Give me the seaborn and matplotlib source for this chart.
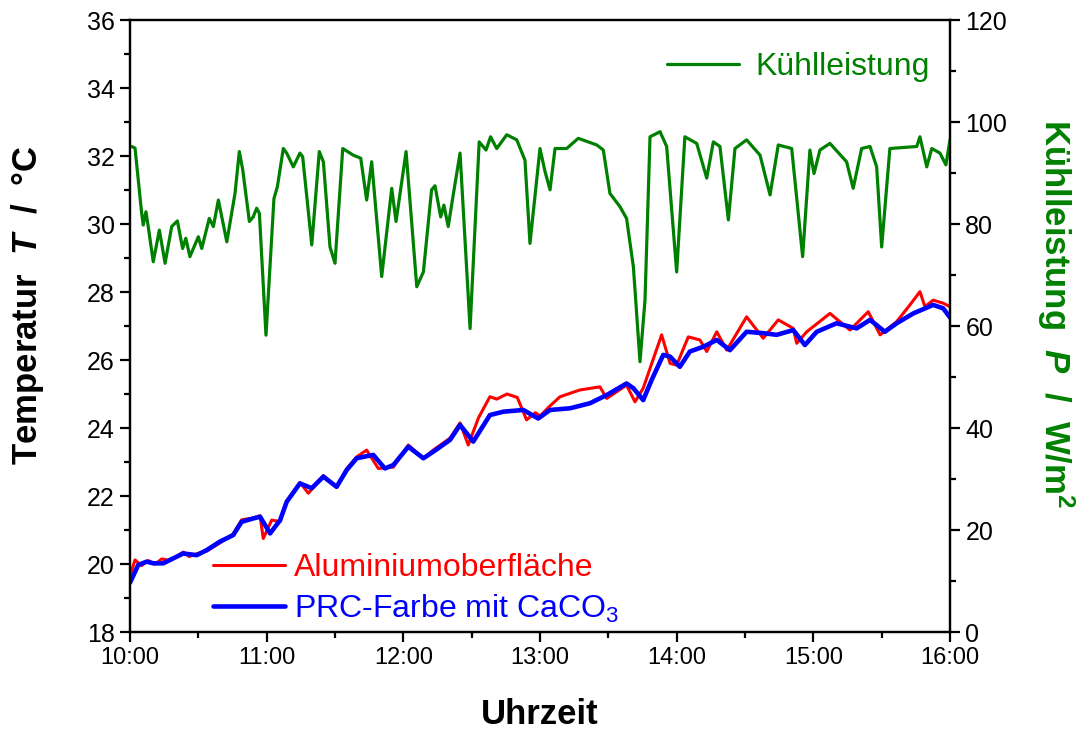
import matplotlib
matplotlib.use("Agg")
import matplotlib.pyplot as plt
from matplotlib.ticker import MultipleLocator, FixedLocator
import pandas as pd
import seaborn as sns

# minutes after 10:00
gruen_min = [0.7, 2.2, 5.1, 5.8, 7.0, 8.0, 10.2, 12.9, 15.4, 18.3, 20.8, 23.1, 24.5, 26.3, 30.0,
             31.5, 34.8, 36.6, 38.8, 42.5, 46.1, 48.0, 49.5, 52.4, 54.1, 55.6, 56.8, 59.7, 63.2,
             64.7, 67.3, 68.8, 71.7, 74.6, 75.8, 79.8, 83.1, 84.9, 87.8, 90.0, 93.4, 98.0, 101.3,
             103.9, 106.1, 110.5, 114.9, 116.8, 121.2, 125.9, 128.8, 132.4, 133.9, 136.4, 137.8,
             139.7, 141.9, 144.9, 149.3, 153.3, 156.3, 158.3, 161.0, 165.4, 169.8, 173.4, 175.6,
             180.0, 182.2, 184.4, 186.6, 191.7, 196.8, 204.9, 207.8, 210.7, 215.1, 218.0, 221.0,
             223.9, 226.1, 228.3, 232.7, 235.6, 240.0, 243.6, 248.8, 253.2, 256.1, 259.0, 262.7,
             265.6, 270.7, 276.6, 281.0, 284.6, 290.5, 295.3, 298.5, 300.3, 302.9, 307.3, 314.6,
             317.5, 321.2, 324.9, 327.8, 330.0, 333.6, 345.4, 346.8, 349.8, 352.0, 355.6, 358.2, 360.0]
gruen_P = [95.2, 94.9, 82.2, 79.8, 82.4, 79.5, 72.6, 78.8, 72.3, 79.5, 80.6, 75.2, 77.2, 73.6, 77.5,
           75.2, 81.1, 79.5, 84.7, 76.5, 86.0, 94.2, 90.6, 80.5, 81.4, 83.1, 82.1, 58.2, 85.0,
           87.3, 94.8, 93.9, 91.2, 93.9, 93.2, 75.9, 94.2, 92.2, 75.5, 72.3, 94.8, 93.5, 92.9,
           84.7, 92.2, 69.7, 87.0, 80.5, 94.2, 67.7, 70.6, 86.7, 87.5, 81.4, 83.7,
           79.5, 85.7, 93.9, 59.5, 96.1, 94.5, 97.1, 94.8, 97.5, 96.5, 92.5, 76.2,
           94.8, 90.3, 86.7, 94.8, 94.8, 96.8, 95.5, 94.5, 86.0, 83.4, 81.1, 71.6,
           53.0, 65.1, 97.1, 98.1, 95.2, 70.6, 97.1, 95.8, 89.0, 96.1, 95.2, 80.8,
           94.8, 96.5, 93.5, 85.7, 95.5, 94.8, 73.6, 94.5, 89.9, 94.5, 95.8, 92.2,
           87.0, 94.8, 95.2, 91.2, 75.5, 94.8, 95.2, 97.1, 91.2, 94.8, 93.9, 91.6, 96.5]

blau_min = [0.0, 0.7, 3.6, 7.3, 10.2, 14.6, 17.6, 23.4, 29.3, 33.7, 39.5, 45.3, 49.0, 54.1, 57.1,
            61.5, 65.9, 68.8, 74.6, 79.8, 84.9, 90.7, 95.1, 99.5, 106.8, 111.9, 115.6, 122.2,
            128.8, 133.1, 140.5, 144.9, 150.7, 158.0, 163.9, 172.7, 179.2, 184.4, 193.2, 202.0,
            209.3, 218.0, 221.0, 225.3, 229.0, 234.1, 237.1, 241.4, 245.8, 251.7, 257.6, 263.4,
            270.7, 278.0, 283.9, 291.2, 296.3, 301.5, 310.2, 319.0, 324.9, 331.4, 336.6, 343.9,
            352.6, 357.0, 360.0]
blau_T = [19.45, 19.55, 19.97, 20.07, 20.02, 20.02, 20.12, 20.31, 20.26, 20.41, 20.66, 20.85, 21.24,
          21.34, 21.39, 20.90, 21.29, 21.83, 22.37, 22.23, 22.57, 22.27, 22.76, 23.11, 23.21, 22.81,
          22.91, 23.45, 23.11, 23.30, 23.65, 24.09, 23.60, 24.38, 24.48, 24.53, 24.28, 24.53, 24.58,
          24.73, 24.97, 25.31, 25.17, 24.82, 25.41, 26.15, 26.10, 25.80, 26.25, 26.39, 26.59, 26.29,
          26.83, 26.79, 26.74, 26.88, 26.44, 26.83, 27.08, 26.93, 27.18, 26.83, 27.08, 27.37,
          27.62, 27.52, 27.25]

rot_min = [0.0, 0.7, 2.2, 5.0, 8.0, 11.0, 14.0, 17.6, 21.0, 23.4, 26.0, 29.3, 33.7, 39.5, 45.3,
           49.0, 54.1, 57.1, 58.5, 62.2, 65.9, 68.8, 74.6, 78.3, 84.9, 90.7, 95.1, 99.5, 103.9,
           109.0, 115.6, 122.2, 128.8, 133.1, 140.5, 144.9, 148.5, 153.0, 158.0, 161.0, 165.5,
           170.0, 174.1, 178.0, 180.0, 184.4, 188.8, 197.6, 206.3, 209.3, 218.0, 221.7, 225.3,
           233.4, 237.1, 240.0, 245.1, 250.2, 253.2, 257.6, 262.0, 270.7, 278.0, 284.6, 291.2,
           292.7, 297.1, 307.3, 316.1, 324.1, 329.3, 336.6, 342.4, 346.8, 349.0, 352.6, 357.0, 360.0]
rot_T = [19.70, 19.80, 20.12, 19.95, 20.10, 20.00, 20.15, 20.10, 20.25, 20.35, 20.22, 20.30, 20.38,
         20.62, 20.88, 21.30, 21.35, 21.42, 20.75, 21.29, 21.25, 21.85, 22.40, 22.08, 22.60, 22.25,
         22.80, 23.15, 23.35, 22.81, 22.85, 23.50, 23.10, 23.35, 23.70, 24.15, 23.50, 24.30, 24.92,
         24.85, 25.00, 24.90, 24.24, 24.45, 24.35, 24.65, 24.92, 25.12, 25.21, 24.87, 25.26, 24.77,
         25.17, 26.74, 25.90, 25.85, 26.68, 26.59, 26.25, 26.83, 26.29, 27.27, 26.64, 27.18, 26.93,
         26.49, 26.83, 27.37, 26.88, 27.42, 26.74, 27.13, 27.62, 28.01, 27.57, 27.76, 27.67, 27.57]

x_ticks = [0, 60, 120, 180, 240, 300, 360]
x_labels = ["10:00", "11:00", "12:00", "13:00", "14:00", "15:00", "16:00"]

gruen = "#008000"

sns.set_style("ticks")
plt.rcParams["font.family"] = ["Liberation Sans", "DejaVu Sans"]
plt.rcParams["mathtext.fontset"] = "custom"
plt.rcParams["mathtext.rm"] = "Liberation Sans"
plt.rcParams["mathtext.it"] = "Liberation Sans:italic:bold"
plt.rcParams["mathtext.bf"] = "Liberation Sans:bold"
for k in ["text.color", "axes.labelcolor", "xtick.color", "ytick.color", "axes.edgecolor"]:
    plt.rcParams[k] = "black"

fig = plt.figure(figsize=(10.79, 7.35), dpi=100)
ax = fig.add_axes([130 / 1079, 103 / 735, 820 / 1079, 612 / 735])
ax2 = ax.twinx()

df_rot = pd.DataFrame({"min": rot_min, "T": rot_T})
df_blau = pd.DataFrame({"min": blau_min, "T": blau_T})
df_gruen = pd.DataFrame({"min": gruen_min, "P": gruen_P})

sns.lineplot(data=df_rot, x="min", y="T", ax=ax, color="#ff0000", lw=2.2, estimator=None,
             sort=False, legend=False, label="Aluminiumoberfläche")
sns.lineplot(data=df_blau, x="min", y="T", ax=ax, color="#0000ff", lw=3.3, estimator=None,
             sort=False, legend=False, label="PRC-Farbe mit CaCO$_3$")
sns.lineplot(data=df_gruen, x="min", y="P", ax=ax2, color=gruen, lw=2.3, estimator=None,
             sort=False, legend=False, label="Kühlleistung")

ax.set_xlim(0, 360)
ax.set_ylim(18, 36)
ax2.set_ylim(0, 120)

ax.xaxis.set_major_locator(FixedLocator(x_ticks))
ax.set_xticklabels(x_labels, fontsize=17)
ax.xaxis.set_minor_locator(MultipleLocator(30))
ax.yaxis.set_major_locator(MultipleLocator(2))
ax.yaxis.set_minor_locator(MultipleLocator(1))
ax2.yaxis.set_major_locator(MultipleLocator(20))
ax2.yaxis.set_minor_locator(MultipleLocator(10))

for a in (ax, ax2):
    for s in a.spines.values():
        s.set_linewidth(1.6)
        s.set_color("black")
    a.tick_params(which="major", direction="out", length=7, width=1.6, labelsize=18, pad=4,
                  colors="black")
    a.tick_params(which="minor", direction="out", length=4.5, width=1.6, colors="black")
ax.tick_params(axis="x", labelsize=17)
ax.tick_params(axis="y", which="both", right=False)
ax2.tick_params(axis="y", which="both", left=False)

ax.set_xlabel("Uhrzeit", fontsize=25, fontweight="bold", labelpad=21)
ax.set_ylabel("Temperatur  $T$  /  °C", fontsize=25, fontweight="bold", labelpad=29)
ax2.set_ylabel("Kühlleistung  $P$  /  W/m$^{\\mathbf{2}}$", fontsize=25, fontweight="bold",
               color=gruen, rotation=270, labelpad=50)
ax.yaxis.label.set_y(0.535)
ax2.yaxis.label.set_y(0.52)

leg1 = ax.legend(loc="lower left", bbox_to_anchor=(0.101, 0.012), frameon=False, fontsize=23,
                 handlelength=2.25, handletextpad=0.3, labelspacing=0.3, borderpad=0,
                 borderaxespad=0, labelcolor="linecolor")
leg2 = ax2.legend(loc="upper left", bbox_to_anchor=(0.655, 0.948), frameon=False, fontsize=23,
                  handlelength=2.25, handletextpad=0.5, borderpad=0, borderaxespad=0,
                  labelcolor="linecolor")

fig.savefig("out.png", dpi=100)
